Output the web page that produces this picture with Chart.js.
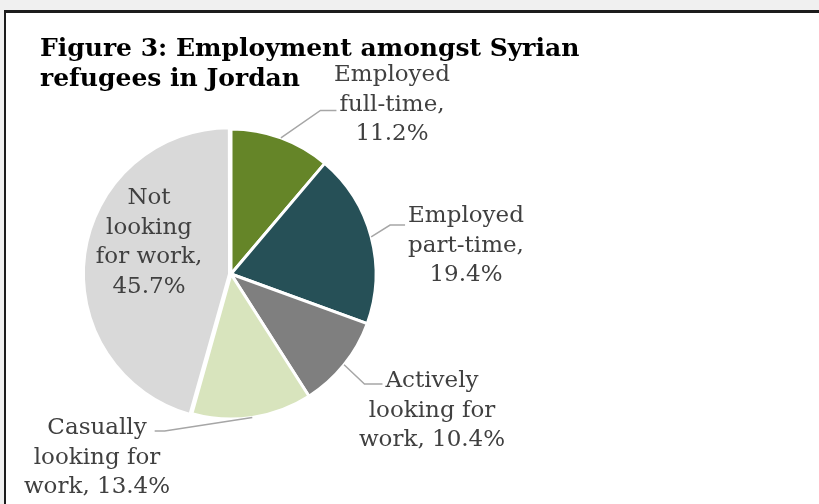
<!DOCTYPE html>
<html>
<head>
<meta charset="utf-8">
<script src="https://cdn.jsdelivr.net/npm/chart.js@4.4.1/dist/chart.umd.min.js"></script>
<style>
  html, body { margin: 0; padding: 0; background: #f0f0f0; overflow: hidden; }
  .frame {
    position: absolute; left: 4px; top: 10px; width: 830px; height: 510px;
    background: #fff; border-top: 3px solid #1c1c1c; border-left: 2px solid #1c1c1c;
  }
  #chart { position: absolute; left: 0; top: 0; }
</style>
</head>
<body>
<div class="frame"></div>
<canvas id="chart" width="819" height="504"></canvas>
<script>
const categories = [
    'Employed full-time',
    'Employed part-time',
    'Actively looking for work',
    'Casually looking for work',
    'Not looking for work'
];
const shares = [11.2, 19.4, 10.4, 13.4, 45.7];
const sliceColors = ['#658528', '#265057', '#7f7f7f', '#d8e4bd', '#d9d9d9'];

const titleLines = ['Figure 3: Employment amongst Syrian', 'refugees in Jordan'];

// how each label is broken into lines, %v is the value
const labelText = [
    ['Employed', 'full-time,', '%v'],
    ['Employed', 'part-time,', '%v'],
    ['Actively', 'looking for', 'work, %v'],
    ['Casually', 'looking for', 'work, %v'],
    ['Not', 'looking', 'for work,', '%v']
];

// label placement: text centre, first baseline, leader line (which text line, side, elbow length)
const labelPlaces = [
    { x: 392, y: 81, leader: { line: 1, side: 'left', len: 16, dy: 0 } },
    { x: 466, y: 222, leader: { line: 0, side: 'left', len: 15, dy: 3 } },
    { x: 432, y: 387, leader: { line: 0, side: 'left', len: 18, dy: -3 } },
    { x: 97, y: 434, leader: { line: 0, side: 'right', len: 10, dy: -3 } },
    { x: 149, y: 204, leader: null }
];

const LINE_H = 29.5;
const LABEL_FONT = '23px "DejaVu Serif"';

const labelPlugin = {
    id: 'sliceLabels',
    afterDraw(chart) {
        const ctx = chart.ctx;
        const arcs = chart.getDatasetMeta(0).data;

        ctx.save();
        // title
        ctx.font = 'bold 25px "DejaVu Serif"';
        ctx.fillStyle = '#000';
        ctx.textAlign = 'left';
        ctx.textBaseline = 'alphabetic';
        titleLines.forEach((t, k) => ctx.fillText(t, 40, 56 + k * 30));

        ctx.font = LABEL_FONT;
        ctx.fillStyle = '#404040';
        ctx.textAlign = 'center';

        arcs.forEach((arc, i) => {
            const place = labelPlaces[i];
            const value = shares[i].toFixed(1) + '%';
            const lines = labelText[i].map(t => t.replace('%v', value));

            lines.forEach((t, k) => ctx.fillText(t, place.x, place.y + k * LINE_H));

            if (!place.leader) return;
            const ld = place.leader;
            const p = arc.getProps(['x', 'y', 'startAngle', 'endAngle', 'outerRadius'], true);
            const mid = (p.startAngle + p.endAngle) / 2;
            const sx = p.x + Math.cos(mid) * p.outerRadius;
            const sy = p.y + Math.sin(mid) * p.outerRadius;

            const w = ctx.measureText(lines[ld.line]).width;
            const ly = place.y + ld.line * LINE_H + ld.dy;
            let ex, elx;
            if (ld.side === 'left') {
                ex = place.x - w / 2 - 3;
                elx = ex - ld.len;
            } else {
                ex = place.x + w / 2 + 8;
                elx = ex + ld.len;
            }

            ctx.beginPath();
            ctx.strokeStyle = '#a6a6a6';
            ctx.lineWidth = 1.5;
            ctx.moveTo(sx, sy);
            ctx.lineTo(elx, ly);
            ctx.lineTo(ex, ly);
            ctx.stroke();
        });
        ctx.restore();
    }
};

new Chart(document.getElementById('chart'), {
    type: 'pie',
    data: {
        labels: categories,
        datasets: [{
            data: shares,
            backgroundColor: sliceColors,
            borderColor: '#ffffff',
            borderWidth: 3,
            offset: [0, 0, 0, 0, 6]
        }]
    },
    options: {
        responsive: false,
        animation: false,
        radius: 145,
        layout: { padding: { left: 0, right: 357, top: 44, bottom: 0 } },
        plugins: {
            legend: { display: false },
            tooltip: { enabled: false },
            title: { display: false }
        }
    },
    plugins: [labelPlugin]
});
</script>
</body>
</html>
